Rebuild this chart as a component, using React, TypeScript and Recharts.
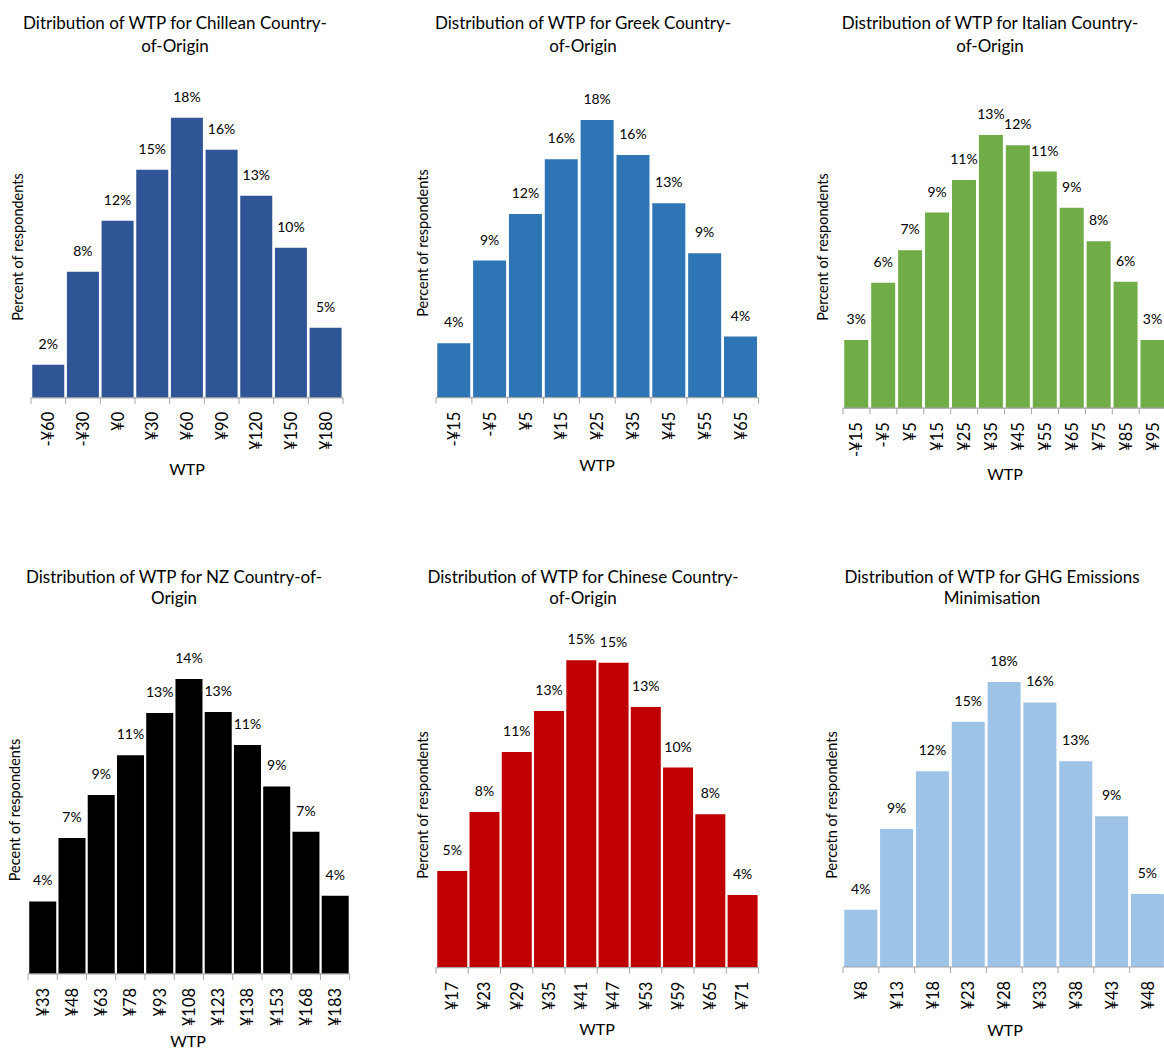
import React from "react";
import { BarChart, Bar, XAxis, YAxis, LabelList } from "recharts";

// ---- data (percent of respondents per WTP bin) ----
const chileanCats = ["-¥60", "-¥30", "¥0", "¥30", "¥60", "¥90", "¥120", "¥150", "¥180"];
const chileanVals = [2.17, 8.29, 11.64, 15.0, 18.42, 16.32, 13.29, 9.87, 4.61];

const greekCats = ["-¥15", "-¥5", "¥5", "¥15", "¥25", "¥35", "¥45", "¥55", "¥65"];
const greekVals = [3.55, 8.94, 11.98, 15.55, 18.1, 15.83, 12.68, 9.42, 3.98];

const italianCats = ["-¥15", "-¥5", "¥5", "¥15", "¥25", "¥35", "¥45", "¥55", "¥65", "¥75", "¥85", "¥95"];
const italianVals = [3.23, 5.94, 7.48, 9.26, 10.8, 12.93, 12.45, 11.2, 9.49, 7.9, 5.99, 3.23];

const nzCats = ["¥33", "¥48", "¥63", "¥78", "¥93", "¥108", "¥123", "¥138", "¥153", "¥168", "¥183"];
const nzVals = [3.52, 6.6, 8.68, 10.61, 12.66, 14.31, 12.71, 11.11, 9.1, 6.9, 3.8];

const chineseCats = ["¥17", "¥23", "¥29", "¥35", "¥41", "¥47", "¥53", "¥59", "¥65", "¥71"];
const chineseVals = [4.79, 7.71, 10.68, 12.72, 15.23, 15.11, 12.91, 9.91, 7.6, 3.6];

const ghgCats = ["¥8", "¥13", "¥18", "¥23", "¥28", "¥33", "¥38", "¥43", "¥48"];
const ghgVals = [3.55, 8.56, 12.13, 15.21, 17.67, 16.4, 12.75, 9.34, 4.53];

const FONT = "Lato, 'Open Sans', sans-serif";
const AXIS = "#A6A6A6";

interface Panel {
  title: string[];
  yLabel: string;
  cats: string[];
  vals: number[];
  color: string;
  axisLeft: number;
  axisRight: number;
  baseline: number;
  pxPerUnit: number;
  titleX: number;
  titleY: number;
  titleLH: number;
  yLabelX: number;
  yLabelY: number;
  xLabelX: number;
  xLabelY: number;
}

const panels: Panel[] = [
  {
    title: ["Ditribution of WTP for Chillean Country-", "of-Origin"],
    yLabel: "Percent of respondents",
    cats: chileanCats, vals: chileanVals, color: "#2F5597",
    axisLeft: 31, axisRight: 343, baseline: 398, pxPerUnit: 15.2,
    titleX: 175, titleY: 22, titleLH: 23,
    yLabelX: 18, yLabelY: 247, xLabelX: 187, xLabelY: 469,
  },
  {
    title: ["Distribution of WTP for Greek Country-", "of-Origin"],
    yLabel: "Percent of respondents",
    cats: greekCats, vals: greekVals, color: "#2E75B6",
    axisLeft: 435.7, axisRight: 758.3, baseline: 397.7, pxPerUnit: 15.33,
    titleX: 583, titleY: 22, titleLH: 23,
    yLabelX: 423, yLabelY: 243, xLabelX: 597, xLabelY: 465,
  },
  {
    title: ["Distribution of WTP for Italian Country-", "of-Origin"],
    yLabel: "Percent of respondents",
    cats: italianCats, vals: italianVals, color: "#70AD47",
    axisLeft: 843.3, axisRight: 1166.5, baseline: 408.3, pxPerUnit: 21.13,
    titleX: 990, titleY: 22, titleLH: 23,
    yLabelX: 823, yLabelY: 247, xLabelX: 1005, xLabelY: 474,
  },
  {
    title: ["Distribution of WTP for NZ Country-of-", "Origin"],
    yLabel: "Pecent of respondents",
    cats: nzCats, vals: nzVals, color: "#000000",
    axisLeft: 28.3, axisRight: 350, baseline: 974.3, pxPerUnit: 20.61,
    titleX: 174, titleY: 576.5, titleLH: 21.5,
    yLabelX: 15, yLabelY: 810, xLabelX: 188, xLabelY: 1041,
  },
  {
    title: ["Distribution of WTP for Chinese Country-", "of-Origin"],
    yLabel: "Percent of respondents",
    cats: chineseCats, vals: chineseVals, color: "#C00000",
    axisLeft: 435.7, axisRight: 758.3, baseline: 967.3, pxPerUnit: 20.18,
    titleX: 583, titleY: 576.5, titleLH: 21.5,
    yLabelX: 423, yLabelY: 805, xLabelX: 597, xLabelY: 1029,
  },
  {
    title: ["Distribution of WTP for GHG Emissions", "Minimisation"],
    yLabel: "Percetn of respondents",
    cats: ghgCats, vals: ghgVals, color: "#9DC3E6",
    axisLeft: 843.3, axisRight: 1165.8, baseline: 967.3, pxPerUnit: 16.13,
    titleX: 992, titleY: 576.5, titleLH: 21.5,
    yLabelX: 832, yLabelY: 805, xLabelX: 1005, xLabelY: 1030,
  },
];

function HistPanel({ p }: { p: Panel }) {
  const n = p.cats.length;
  const plotW = p.axisRight - p.axisLeft;
  const band = plotW / n;
  const dom = Math.ceil(Math.max(...p.vals) * 1.25);
  const plotH = dom * p.pxPerUnit;
  const mL = 24, mR = 24, mT = 10, axisH = 60;
  const W = plotW + mL + mR;
  const H = mT + plotH + axisH;
  const data = p.cats.map((c, i) => ({ cat: c, v: p.vals[i] }));

  // Excel-style ticks sit on the bin edges, labels run bottom-to-top
  const renderTick = (props: any) => {
    const { x, y, payload, index } = props;
    return (
      <g>
        <line x1={x - band / 2} x2={x - band / 2} y1={y} y2={y + 6} stroke={AXIS} />
        {index === n - 1 && (
          <line x1={x + band / 2} x2={x + band / 2} y1={y} y2={y + 6} stroke={AXIS} />
        )}
        <text
          transform={`translate(${x},${y + 14}) rotate(-90)`}
          textAnchor="end"
          dominantBaseline="central"
          fontSize={16.5}
          fontFamily={FONT}
          fill="#000"
        >
          {payload.value}
        </text>
      </g>
    );
  };

  return (
    <>
      <div
        style={{
          position: "absolute",
          left: p.titleX - 250,
          width: 500,
          top: p.titleY - p.titleLH / 2,
          lineHeight: `${p.titleLH}px`,
          fontSize: 17,
          textAlign: "center",
          fontFamily: FONT,
          color: "#000",
        }}
      >
        {p.title[0]}
        <br />
        {p.title[1]}
      </div>
      <div
        style={{
          position: "absolute",
          left: p.yLabelX,
          top: p.yLabelY,
          transform: "translate(-50%, -50%) rotate(-90deg)",
          whiteSpace: "nowrap",
          fontSize: 14.5,
          lineHeight: "16px",
          fontFamily: FONT,
          color: "#000",
        }}
      >
        {p.yLabel}
      </div>
      <div
        style={{
          position: "absolute",
          left: p.xLabelX,
          top: p.xLabelY,
          transform: "translate(-50%, -50%)",
          fontSize: 16,
          lineHeight: "18px",
          fontFamily: FONT,
          color: "#000",
        }}
      >
        WTP
      </div>
      <div style={{ position: "absolute", left: p.axisLeft - mL, top: p.baseline - plotH - mT }}>
        <BarChart
          width={W}
          height={H}
          data={data}
          margin={{ top: mT, right: mR, bottom: 0, left: mL }}
          barCategoryGap={1.25}
        >
          <XAxis
            dataKey="cat"
            interval={0}
            height={axisH}
            tickLine={false}
            tickSize={0}
            tickMargin={0}
            axisLine={{ stroke: AXIS, strokeWidth: 1.2 }}
            tick={renderTick}
          />
          <YAxis hide domain={[0, dom]} />
          <Bar dataKey="v" fill={p.color} isAnimationActive={false}>
            <LabelList
              dataKey="v"
              position="top"
              offset={16}
              formatter={(v: any) => `${Math.round(Number(v))}%`}
              fill="#000"
              fontSize={14}
              fontFamily={FONT}
            />
          </Bar>
        </BarChart>
      </div>
    </>
  );
}

export default function App() {
  return (
    <div
      style={{
        position: "fixed",
        left: 0,
        top: 0,
        width: 1164,
        height: 1051,
        overflow: "hidden",
        background: "#fff",
      }}
    >
      {panels.map((p) => (
        <HistPanel key={p.title[0]} p={p} />
      ))}
    </div>
  );
}
